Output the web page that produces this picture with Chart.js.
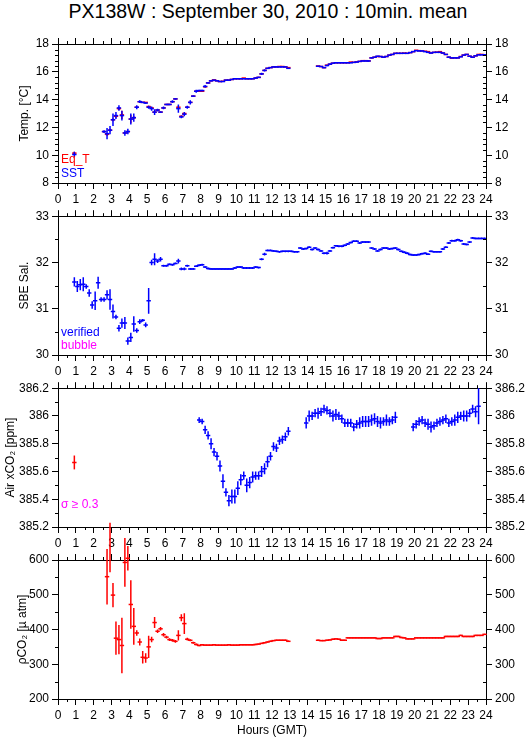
<!DOCTYPE html>
<html>
<head>
<meta charset="utf-8">
<script src="https://cdn.jsdelivr.net/npm/chart.js@4.4.1/dist/chart.umd.min.js"></script>
<style>
  html, body { margin: 0; padding: 0; background: #fff; }
  #page { position: relative; width: 529px; height: 739px; overflow: hidden; }
  #title { position: absolute; left: 0; top: 2px; width: 536px; text-align: center;
           font: 19.5px/19.5px "Liberation Sans", Arial, sans-serif; color: #000; white-space: nowrap; }
  canvas { position: absolute; left: 0; }
</style>
</head>
<body>
<div id="page">
  <div id="title">PX138W : September 30, 2010 : 10min. mean</div>
  <canvas id="c1" width="529" height="178" style="top:30px"></canvas>
  <canvas id="c2" width="529" height="171" style="top:206px"></canvas>
  <canvas id="c3" width="529" height="171" style="top:378px"></canvas>
  <canvas id="c4" width="529" height="239" style="top:500px"></canvas>
</div>
<script>
const _ = null;
const BIN = 1 / 6;   // 10 min means, one value per bin, 144 bins in the day

// Temperature [°C]
const sst = [
  _,_,_,_,_,10.05,_,_,_,_,_,_,
  _,_,_,11.7,11.55,11.8,12.55,12.85,13.4,12.85,11.6,11.7,
  12.6,12.7,13.45,13.85,13.8,13.75,13.45,13.35,13.1,13.25,13.1,13.4,
  13.65,13.65,13.85,14.05,13.35,12.75,12.95,13.45,13.8,14.25,14.6,14.65,
  14.65,14.95,15.2,15.35,15.4,15.35,15.3,15.3,15.4,15.4,15.45,15.5,
  15.5,15.5,15.5,15.5,15.5,15.5,15.55,15.6,15.85,16.1,16.25,16.3,
  16.35,16.35,16.35,16.35,16.35,16.25,_,_,_,_,_,_,
  _,_,_,16.4,16.38,16.3,16.45,16.55,16.62,16.65,16.65,16.65,
  16.65,16.65,16.65,16.68,16.7,16.75,16.78,16.78,16.78,17.0,17.05,17.12,
  17.1,17.05,17.1,17.2,17.25,17.33,17.33,17.33,17.33,17.33,17.38,17.45,
  17.52,17.5,17.5,17.45,17.4,17.35,17.4,17.4,17.4,17.35,17.25,17.05,
  17.0,17.0,17.0,17.08,17.2,17.25,17.12,17.05,17.15,17.22,17.22,17.22
];
const sstErr = [
  _,_,_,_,_,0.2,_,_,_,_,_,_,
  _,_,_,0.1,0.4,0.3,0.45,0.25,0.2,0.35,0.2,0.2,
  0.4,0.3,0.15,0.1,0.05,0.05,0.1,0.15,0.2,0.1,0.05,0.1,
  0.05,0.05,0.1,0.05,0.3,0.1,0.15,0.1,0.15,0.05,0.1,0.05,
  0.05,0.1,0.05,0.05,0.03,0.03,0.03,0.03,0.03,0.03,0.03,0.03,
  0.03,0.03,0.03,0.03,0.03,0.03,0.05,0.05,0.08,0.08,0.05,0.03,
  0.03,0.03,0.03,0.03,0.03,0.03,_,_,_,_,_,_,
  _,_,_,0.03,0.03,0.05,0.05,0.05,0.03,0.03,0.03,0.03,
  0.03,0.03,0.03,0.03,0.03,0.03,0.03,0.03,0.05,0.05,0.03,0.03,
  0.03,0.03,0.03,0.03,0.03,0.03,0.03,0.03,0.03,0.03,0.03,0.03,
  0.03,0.03,0.03,0.03,0.03,0.03,0.03,0.03,0.03,0.03,0.03,0.05,
  0.03,0.03,0.03,0.03,0.03,0.03,0.03,0.03,0.03,0.03,0.03,0.03
];
const eqT = [
  _,_,_,_,_,10.15,_,_,_,_,_,_,
  _,_,_,11.7,11.5,11.8,12.55,12.8,13.35,12.9,11.6,11.7,
  12.6,12.7,13.45,13.85,13.8,13.8,13.5,13.4,13.1,13.25,13.1,13.4,
  13.65,13.65,13.85,14.05,13.45,12.8,13.0,13.45,13.8,14.25,14.6,14.6,
  14.6,14.92,15.2,15.35,15.42,15.35,15.3,15.32,15.4,15.4,15.45,15.5,
  15.5,15.5,15.55,15.5,15.5,15.5,15.55,15.6,15.85,16.1,16.25,16.3,
  16.35,16.35,16.38,16.38,16.35,16.3,_,_,_,_,_,_,
  _,_,_,16.42,16.38,16.3,16.48,16.55,16.62,16.65,16.65,16.65,
  16.65,16.65,16.7,16.68,16.72,16.75,16.8,16.8,16.78,17.0,17.05,17.1,
  17.1,17.05,17.1,17.2,17.25,17.33,17.33,17.33,17.35,17.33,17.38,17.45,
  17.55,17.52,17.5,17.48,17.45,17.35,17.4,17.42,17.45,17.35,17.25,17.05,
  16.98,17.0,17.0,17.1,17.2,17.25,17.12,17.05,17.15,17.25,17.25,17.22
];
const eqTErr = [
  _,_,_,_,_,0.1,_,_,_,_,_,_,
  _,_,_,0.05,0.1,0.1,0.1,0.1,0.1,0.3,0.05,0.05,
  0.3,0.1,0.05,0.05,0.03,0.03,0.05,0.05,0.05,0.05,0.03,0.03,
  0.03,0.03,0.03,0.03,0.1,0.05,0.05,0.03,0.03,0.03,0.03,0.03
];

// SBE salinity
const sal = [
  _,_,_,_,_,31.58,31.48,31.52,31.53,31.48,31.34,31.08,
  31.17,31.56,31.2,31.2,31.3,31.2,30.94,30.82,30.58,30.69,30.69,30.3,
  30.38,30.67,30.53,30.72,30.75,30.65,31.17,32.0,32.07,32.03,32.07,31.93,
  31.93,31.96,31.95,31.98,32.03,31.86,31.86,31.93,31.86,31.86,31.92,31.94,
  31.95,31.9,31.87,31.86,31.86,31.86,31.86,31.86,31.86,31.86,31.86,31.88,
  31.9,31.9,31.88,31.88,31.88,31.88,31.9,31.89,32.07,32.18,32.26,32.26,
  32.25,32.24,32.23,32.24,32.24,32.24,32.24,32.23,32.23,32.31,32.29,32.3,
  32.33,32.28,32.31,32.28,32.25,32.2,32.2,32.25,32.32,32.36,32.35,32.35,
  32.37,32.4,32.43,32.46,32.46,32.42,32.44,32.44,32.44,32.31,32.29,32.25,
  32.28,32.31,32.31,32.29,32.3,32.31,32.28,32.24,32.22,32.2,32.17,32.16,
  32.16,32.17,32.19,32.2,32.18,32.24,32.23,32.23,32.23,32.29,32.33,32.42,
  32.47,32.47,32.49,32.47,32.4,32.39,32.44,32.53,32.52,32.52,32.52,32.52
];
const salErr = [
  _,_,_,_,_,0.1,0.12,0.12,0.15,0.05,0.08,0.08,
  0.2,0.13,0.05,0.05,0.1,0.22,0.15,0.05,0.07,0.1,0.13,0.08,
  0.1,0.17,0.05,0.05,0.03,0.05,0.28,0.06,0.13,0.04,0.05,0.02,
  0.02,0.02,0.02,0.02,0.05,0.03,0.03,0.02,0.02,0.02,0.02,0.02,
  0.02,0.02,0.02,0.02,0.02,0.02,0.02,0.02,0.02,0.02,0.02,0.02,
  0.02,0.02,0.02,0.02,0.02,0.02,0.02,0.02,0.02,0.03,0.02,0.02,
  0.02,0.02,0.02,0.02,0.02,0.02,0.02,0.02,0.02,0.02,0.02,0.02,
  0.02,0.02,0.02,0.02,0.02,0.02,0.03,0.02,0.02,0.02,0.02,0.02,
  0.02,0.02,0.02,0.02,0.02,0.02,0.02,0.02,0.02,0.02,0.02,0.02,
  0.02,0.02,0.02,0.02,0.02,0.02,0.02,0.02,0.02,0.02,0.02,0.02,
  0.02,0.02,0.02,0.02,0.02,0.02,0.02,0.02,0.02,0.02,0.02,0.02,
  0.02,0.02,0.02,0.02,0.02,0.02,0.02,0.02,0.02,0.02,0.02,0.02
];

// Air xCO2 [ppm]
const airCO2 = [
  _,_,_,_,_,_,_,_,_,_,_,_,
  _,_,_,_,_,_,_,_,_,_,_,_,
  _,_,_,_,_,_,_,_,_,_,_,_,
  _,_,_,_,_,_,_,_,_,_,_,385.97,
  385.96,385.9,385.86,385.8,385.74,385.71,385.64,385.53,385.45,385.39,385.42,385.42,
  385.48,385.54,385.57,385.5,385.52,385.56,385.57,385.57,385.6,385.62,385.67,385.71,
  385.78,385.77,385.82,385.83,385.85,385.89,_,_,_,_,_,385.95,
  386.0,386.0,386.02,386.02,386.03,386.05,386.04,386.02,386.0,386.01,386.0,385.98,
  385.95,385.95,385.95,385.92,385.94,385.95,385.96,385.96,385.96,385.97,385.98,385.96,
  385.95,385.96,385.97,385.96,385.97,385.99,_,_,_,_,_,385.92,
  385.94,385.96,385.97,385.95,385.94,385.92,385.93,385.95,385.96,385.97,385.98,385.95,
  385.96,385.97,385.99,386.0,386.0,386.0,386.02,386.05,386.03,386.07,_,_
];
const airCO2Err = [
  _,_,_,_,_,_,_,_,_,_,_,_,
  _,_,_,_,_,_,_,_,_,_,_,_,
  _,_,_,_,_,_,_,_,_,_,_,_,
  _,_,_,_,_,_,_,_,_,_,_,0.02,
  0.02,0.03,0.03,0.04,0.03,0.03,0.04,0.05,0.03,0.04,0.05,0.05,
  0.05,0.04,0.03,0.05,0.04,0.04,0.03,0.03,0.04,0.04,0.04,0.03,
  0.03,0.03,0.03,0.03,0.03,0.03,_,_,_,_,_,0.04,
  0.04,0.03,0.03,0.04,0.03,0.03,0.03,0.03,0.04,0.04,0.03,0.03,
  0.03,0.03,0.03,0.03,0.03,0.04,0.04,0.04,0.04,0.04,0.04,0.04,
  0.04,0.03,0.04,0.03,0.03,0.04,_,_,_,_,_,0.03,
  0.03,0.03,0.03,0.03,0.04,0.04,0.03,0.03,0.03,0.03,0.03,0.03,
  0.03,0.04,0.04,0.03,0.04,0.04,0.03,0.03,0.04,0.13,_,_
];
const airCO2Red = [_,_,_,_,_,385.665];
const airCO2RedErr = [_,_,_,_,_,0.05];

// pCO2 [µatm]
const pco2 = [
  _,_,_,_,_,_,_,_,_,_,_,_,
  _,_,_,_,552,636,499,375,371,354,593,605,
  472,409,390,364,320,318,350,371,420,395,402,385,
  378,371,369,366,383,434,417,372,369,362,357,354,
  356,355,355,355,356,355,355,355,355,356,355,355,
  355,356,356,356,356,356,357,358,360,362,364,366,
  368,369,369,369,369,366,_,_,_,_,_,_,
  _,_,_,369,368,368,369,370,372,373,372,369,
  369,376,376,376,376,376,376,376,376,376,376,374,
  374,376,376,376,376,380,380,377,376,373,373,373,
  376,376,376,376,376,376,376,376,376,376,380,380,
  380,380,380,383,380,380,380,380,383,383,383,386
];
const pco2Err = [
  _,_,_,_,_,_,_,_,_,_,_,_,
  _,_,_,_,80,71,35,48,42,80,70,35,
  70,53,8,10,18,14,32,8,16,5,5,5,
  4,4,4,4,15,10,30,4,3,3,3,2,
  2,2,2,2,2,2,2,2,2,2,2,2,
  2,2,2,2,2,2,2,2,2,2,2,2,
  2,2,2,2,2,2,_,_,_,_,_,_,
  _,_,_,2,2,2,2,2,2,2,2,2,
  2,2,2,2,2,2,2,2,2,2,2,2,
  2,2,2,2,2,2,2,2,2,2,2,2,
  2,2,2,2,2,2,2,2,2,2,2,2,
  2,2,2,2,2,2,2,2,2,2,2,2
];

const BLUE = '#0000ff', RED = '#ff0000', MAGENTA = '#ff00ff';
const FONT = '"Liberation Sans", Arial, sans-serif';

Chart.defaults.font.family = FONT;
Chart.defaults.font.size = 12;
Chart.defaults.color = '#000';

function series(vals) {
  return vals.map((v, i) => ({ x: (i + 0.5) * BIN, y: v }));
}

function dataset(vals, errs, color, noClip) {
  const ds = {
    data: series(vals), errors: errs, xAxisID: 'x', yAxisID: 'y',
    showLine: false, borderColor: color, backgroundColor: color,
    pointStyle: 'line', pointRadius: 2.2, pointBorderWidth: 1.5,
    pointBorderColor: color
  };
  if (noClip) ds.clip = false;
  return ds;
}

// error bars, half hour / minor ticks and the little legends in the corner
const extras = {
  id: 'extras',
  afterDatasetDraw(chart, args) {
    const ds = chart.data.datasets[args.index];
    if (!ds.errors) return;
    const ctx = chart.ctx, ys = chart.scales.y;
    ctx.save();
    ctx.strokeStyle = ds.borderColor;
    ctx.lineWidth = 1.5;
    ctx.beginPath();
    args.meta.data.forEach((pt, j) => {
      const v = ds.data[j].y, e = ds.errors[j];
      if (v == null || !e) return;
      ctx.moveTo(pt.x, ys.getPixelForValue(v - e));
      ctx.lineTo(pt.x, ys.getPixelForValue(v + e));
    });
    ctx.stroke();
    ctx.restore();
  },
  afterDraw(chart, args, opts) {
    const { ctx, chartArea: a, scales } = chart;
    ctx.save();
    ctx.strokeStyle = '#000';
    ctx.lineWidth = 1;
    ctx.beginPath();
    for (let k = 0; k < 24; k++) {
      const px = Math.round(scales.x.getPixelForValue(k + 0.5)) + 0.5;
      ctx.moveTo(px, a.bottom); ctx.lineTo(px, a.bottom + 3);
      ctx.moveTo(px, a.top); ctx.lineTo(px, a.top - 3);
    }
    const ys = scales.y;
    const n = Math.round((ys.max - ys.min) / opts.minor);
    const every = Math.round(opts.major / opts.minor);
    for (let k = 1; k < n; k++) {
      if (k % every === 0) continue;
      const py = Math.round(ys.getPixelForValue(ys.min + k * opts.minor)) + 0.5;
      ctx.moveTo(a.left, py); ctx.lineTo(a.left - 3, py);
      ctx.moveTo(a.right, py); ctx.lineTo(a.right - 3, py);
    }
    ctx.stroke();
    ctx.font = '12px ' + FONT;
    ctx.textBaseline = 'alphabetic';
    ctx.textAlign = 'left';
    (opts.notes || []).forEach(t => {
      ctx.fillStyle = t.color;
      ctx.fillText(t.text, a.left + 3, a.bottom - t.dy);
    });
    ctx.restore();
  }
};

const grid = { drawOnChartArea: false, drawTicks: true, tickLength: 6, color: '#000', lineWidth: 1 };
const border = { color: '#000', width: 1 };

function panel(id, p) {
  const fmt = v => String(Number(v.toFixed(1)));
  new Chart(document.getElementById(id), {
    type: 'line',
    data: { datasets: p.datasets },
    options: {
      responsive: false,
      animation: false,
      events: [],
      devicePixelRatio: 1,
      layout: { padding: { top: p.padTop - 6, left: 0, right: 0, bottom: 0 } },
      plugins: {
        legend: { display: false },
        tooltip: { enabled: false },
        extras: { minor: p.minor, major: p.step, notes: p.notes }
      },
      scales: {
        x: {
          type: 'linear', position: 'bottom', min: 0, max: 24,
          ticks: { stepSize: 1, autoSkip: false, maxRotation: 0, padding: 3 },
          grid: grid, border: border,
          title: p.xTitle ? { display: true, text: p.xTitle, padding: { top: 0, bottom: 1 } } : { display: false },
          afterFit: s => { s.height = p.padBottom; }
        },
        x2: {
          type: 'linear', position: 'top', min: 0, max: 24,
          ticks: { display: false, stepSize: 1 },
          grid: grid, border: border,
          afterFit: s => { s.height = 6; }
        },
        y: {
          type: 'linear', position: 'left', min: p.min, max: p.max,
          ticks: { stepSize: p.step, callback: fmt, padding: 3 },
          grid: grid, border: border,
          title: { display: true, text: p.yTitle, padding: { top: p.titlePad, bottom: 0 } },
          afterFit: s => { s.width = 58; }
        },
        y2: {
          type: 'linear', position: 'right', min: p.min, max: p.max,
          ticks: { stepSize: p.step, callback: fmt, padding: 3 },
          grid: grid, border: border,
          afterFit: s => { s.width = 43; }
        }
      }
    },
    plugins: [extras]
  });
}

panel('c1', {
  datasets: [dataset(sst, sstErr, BLUE), dataset(eqT, eqTErr, RED)],
  min: 8, max: 18, step: 2, minor: 0.4,
  yTitle: 'Temp. [°C]', titlePad: 17,
  padTop: 14, padBottom: 25,
  notes: [{ text: 'Eq_T', color: RED, dy: 20 }, { text: 'SST', color: BLUE, dy: 6 }]
});

panel('c2', {
  datasets: [dataset(sal, salErr, BLUE)],
  min: 30, max: 33, step: 1, minor: 0.5,
  yTitle: 'SBE Sal.', titlePad: 17,
  padTop: 10, padBottom: 22,
  notes: [{ text: 'verified', color: BLUE, dy: 19 }, { text: 'bubble', color: MAGENTA, dy: 6 }]
});

panel('c3', {
  datasets: [dataset(airCO2, airCO2Err, BLUE), dataset(airCO2Red, airCO2RedErr, RED)],
  min: 385.2, max: 386.2, step: 0.2, minor: 0.1,
  yTitle: 'Air xCO₂ [ppm]', titlePad: 3,
  padTop: 10, padBottom: 22,
  notes: [{ text: 'σ ≥ 0.3', color: MAGENTA, dy: 19 }]
});

panel('c4', {
  datasets: [dataset(pco2, pco2Err, RED, true)],
  min: 200, max: 600, step: 100, minor: 50,
  yTitle: 'ρCO₂ [µ atm]', titlePad: 15,
  padTop: 60, padBottom: 40,
  xTitle: 'Hours (GMT)'
});
</script>
</body>
</html>
